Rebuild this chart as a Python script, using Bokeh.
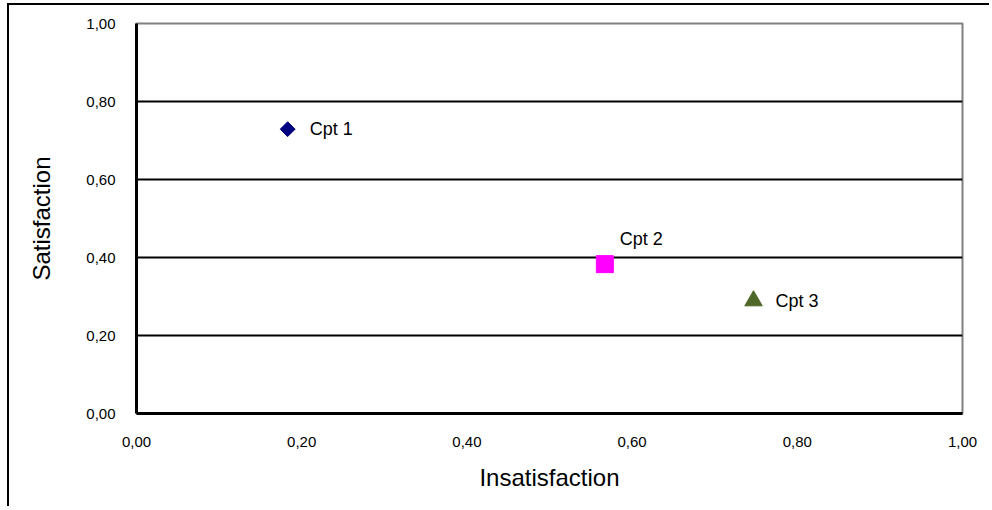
from bokeh.plotting import figure
from bokeh.models import Range1d, FixedTicker, ColumnDataSource
from bokeh.core.properties import value
from bokeh.embed import file_html
from bokeh.resources import INLINE
import numpy as np

# ---- data ----
categories = ["Cpt 1", "Cpt 2", "Cpt 3"]
insatisfaction = [0.183, 0.567, 0.747]
satisfaction = [0.729, 0.383, 0.289]
tick_values = [0.0, 0.2, 0.4, 0.6, 0.8, 1.0]
tick_labels = ["0,00", "0,20", "0,40", "0,60", "0,80", "1,00"]
grid_values = [0.2, 0.4, 0.6, 0.8]

FONT = "Liberation Sans"

p = figure(width=982, height=503, x_range=Range1d(0, 1), y_range=Range1d(0, 1),
           output_backend="svg", toolbar_location=None,
           min_border_left=127, min_border_right=29, min_border_top=18, min_border_bottom=95)
p.styles = {"margin-top": "3px", "margin-left": "7px",
            "border-top": "2px solid black", "border-left": "2px solid black"}
p.background_fill_color = "white"
p.border_fill_color = "white"
p.outline_line_color = "#808080"
p.outline_line_width = 2

overrides = {v: l for v, l in zip(tick_values, tick_labels)}
for ax in (p.xaxis[0], p.yaxis[0]):
    ax.ticker = FixedTicker(ticks=tick_values)
    ax.major_label_overrides = overrides
    ax.major_tick_line_color = None
    ax.minor_tick_line_color = None
    ax.major_tick_out = 0
    ax.major_tick_in = 0
    ax.axis_line_color = "black"
    ax.axis_line_width = 3
    ax.major_label_text_font = FONT
    ax.major_label_text_font_size = "15px"
    ax.major_label_text_color = "black"
    ax.axis_label_text_font = FONT
    ax.axis_label_text_font_size = "24px"
    ax.axis_label_text_font_style = "normal"
    ax.axis_label_text_color = "black"

p.xaxis.axis_label = "Insatisfaction"
p.yaxis.axis_label = "Satisfaction"
p.yaxis.major_label_standoff = 21
p.xaxis.major_label_standoff = 23
p.yaxis.axis_label_standoff = 28
p.xaxis.axis_label_standoff = 14

p.xgrid.grid_line_color = None
p.ygrid.ticker = FixedTicker(ticks=grid_values)
p.ygrid.grid_line_color = "black"
p.ygrid.grid_line_width = 2

markers = ["square", "square", "triangle"]
colors = ["#000080", "#FF00FF", "#50672A"]
sizes = [10.5, 17, 17.5]
angles = [np.pi / 4, 0, 0]
x_offsets = [22, 15, 22]
y_offsets = [0, -25, 0]

src = ColumnDataSource(dict(x=insatisfaction, y=satisfaction, label=categories,
                            marker=markers, color=colors, size=sizes, angle=angles,
                            xo=x_offsets, yo=y_offsets))
p.scatter(x="x", y="y", marker="marker", size="size", angle="angle",
          fill_color="color", line_color="color", source=src)
p.text(x="x", y="y", text="label", x_offset="xo", y_offset="yo", source=src,
       text_font=value(FONT), text_font_size="18px", text_baseline="middle",
       text_align="left", text_color="black")

open("out.html", "w").write(file_html(p, INLINE))
